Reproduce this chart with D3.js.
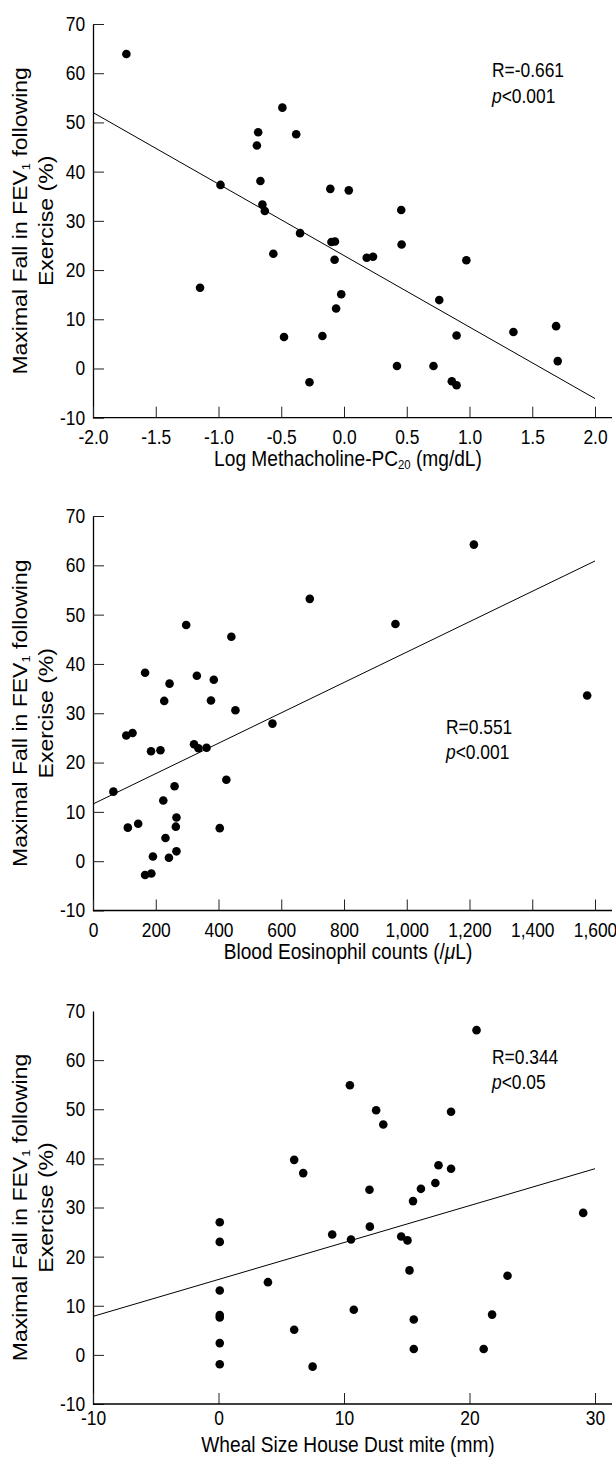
<!DOCTYPE html>
<html><head><meta charset="utf-8">
<script src="https://cdn.jsdelivr.net/npm/d3@7"></script>
<style>
body{margin:0;background:#fff}
svg{display:block}
text{font-family:"Liberation Sans",Arial,sans-serif;fill:#000}
</style>
</head><body>
<svg id="c" width="616" height="1458"></svg>
<script>
// ---------- data ----------
const yTickValues = [70, 60, 50, 40, 30, 20, 10, 0, -10];

const methX = [-1.734,-0.984,-0.684,-0.694,-0.491,-0.381,-0.666,-0.109,0.038,-0.650,-0.631,-0.350,-0.563,-0.100,-0.072,-0.075,0.181,0.231,0.456,0.459,0.975,-1.147,-0.022,-0.063,0.759,-0.478,-0.172,0.897,1.350,1.690,1.703,0.422,0.713,-0.275,0.859,0.897];
const methY = [63.9,37.3,48.0,45.3,53.0,47.6,38.1,36.5,36.2,33.3,32.0,27.5,23.3,25.7,25.8,22.1,22.5,22.7,32.2,25.2,22.0,16.4,15.1,12.2,13.9,6.4,6.6,6.7,7.4,8.6,1.5,0.5,0.5,-2.8,-2.6,-3.4];
const methTicks = [-2.0,-1.5,-1.0,-0.5,0.0,0.5,1.0,1.5,2.0];
const methFit = {intercept: 22.95, slope: -14.53};
const methStats = ["R=-0.661", "<0.001"];

const eosX = [1214,691,964,297,441,166,244,331,385,1575,227,376,454,572,106,126,185,215,322,336,362,65,260,425,224,266,264,111,144,404,231,266,191,242,166,186];
const eosY = [64.2,53.2,48.1,47.9,45.5,38.2,36.0,37.6,36.8,33.6,32.5,32.6,30.6,27.9,25.5,26.0,22.3,22.5,23.7,22.9,23.0,14.1,15.2,16.5,12.3,8.85,7.0,6.8,7.6,6.7,4.7,2.0,0.95,0.7,-2.8,-2.5];
const eosTicks = [0,200,400,600,800,1000,1200,1400,1600];
const eosFit = {intercept: 11.6, slope: 0.0308};
const eosStats = ["R=0.551", "<0.001"];

const whealX = [20.56,10.47,12.56,13.13,18.53,6.03,6.75,17.53,18.53,17.28,12.03,16.13,15.5,29.06,0.1,0.1,9.06,10.56,12.06,14.56,15.06,15.22,23.03,3.94,0.1,10.78,0.1,0.1,15.56,21.8,6.03,0.1,0.1,7.5,15.56,21.13];
const whealY = [66.1,54.9,49.8,46.9,49.5,39.7,37.0,38.6,37.9,35.0,33.6,33.8,31.3,28.9,27.0,23.0,24.5,23.5,26.1,24.1,23.3,17.2,16.1,14.8,13.1,9.2,8.1,7.6,7.2,8.2,5.1,2.4,-1.9,-2.4,1.2,1.2];
const whealTicks = [-10,0,10,20,30];
const whealFit = {intercept: 15.35, slope: 0.7515};
const whealStats = ["R=0.344", "<0.05"];
const whealYTickMarks = [60,50,40,38.8,30,20,10,0,-10];

// ---------- drawing ----------
const SX = 0.87;
const FONT = '"Liberation Sans",Arial,sans-serif';
const svg = d3.select("#c");
const X0 = 93, X1 = 595, XEND = 612;

function ctext(g, x, y, size, anchor) {
  return g.append("text")
    .attr("transform", `translate(${x},${y}) scale(${SX},1)`)
    .attr("text-anchor", anchor).attr("font-size", size);
}

function panel(cfg) {
  const g = svg.append("g");
  const x = d3.scaleLinear().domain(cfg.xDomain).range([X0, X1]);
  const y = d3.scaleLinear().domain([-10, 70]).range([cfg.bottom, cfg.top]);

  // y axis
  const ya = g.append("g").attr("transform", `translate(${X0},0)`)
    .call(d3.axisLeft(y).tickValues(yTickValues).tickFormat(d => String(d))
      .tickSizeInner(-11).tickSizeOuter(0).tickPadding(9));
  ya.attr("font-family", FONT).attr("font-size", 20);
  ya.select(".domain").attr("stroke", "#000").attr("stroke-width", 1.3);
  ya.selectAll(".tick line").attr("stroke", "#222").attr("stroke-width", 1);
  ya.selectAll(".tick text").attr("transform", `scale(${SX},1)`).attr("fill", "#000");
  if (cfg.yTickMarks) {
    ya.selectAll(".tick line").remove();
    g.append("g").attr("transform", `translate(${X0},0)`)
      .call(d3.axisLeft(y).tickValues(cfg.yTickMarks).tickFormat("").tickSizeInner(-11).tickSizeOuter(0))
      .call(a => a.select(".domain").remove())
      .selectAll(".tick line").attr("stroke", "#222").attr("stroke-width", 1);
  }

  // x axis
  const xa = g.append("g").attr("transform", `translate(0,${cfg.bottom})`)
    .call(d3.axisBottom(x).tickValues(cfg.xTicks).tickFormat(cfg.fmt)
      .tickSizeInner(-11).tickSizeOuter(0).tickPadding(cfg.xPad));
  xa.attr("font-family", FONT).attr("font-size", 20);
  xa.select(".domain").remove();
  xa.selectAll(".tick line").attr("stroke", "#222").attr("stroke-width", 1);
  xa.selectAll(".tick text").attr("transform", `scale(${SX},1)`).attr("fill", "#000");
  g.append("line").attr("x1", X0).attr("x2", XEND)
    .attr("y1", cfg.bottom).attr("y2", cfg.bottom)
    .attr("stroke", "#000").attr("stroke-width", 1.3);

  // regression line
  const [d0, d1] = cfg.xDomain;
  g.append("line")
    .attr("x1", x(d0)).attr("y1", y(cfg.fit.intercept + cfg.fit.slope * d0))
    .attr("x2", x(d1)).attr("y2", y(cfg.fit.intercept + cfg.fit.slope * d1))
    .attr("stroke", "#000").attr("stroke-width", 1);

  // points
  g.append("g").selectAll("circle").data(cfg.xs.map((v, i) => [v, cfg.ys[i]]))
    .join("circle").attr("cx", d => x(d[0])).attr("cy", d => y(d[1]))
    .attr("r", 4.3).attr("fill", "#000");

  // stats
  ctext(g, cfg.statX, cfg.statY, 20, "start").text(cfg.stats[0]);
  const p = ctext(g, cfg.statX, cfg.statY + 25.5, 20, "start");
  p.append("tspan").attr("font-style", "italic").text("p");
  p.append("tspan").text(cfg.stats[1]);

  // y title
  const cy = (cfg.top + cfg.bottom) / 2;
  const l1 = g.append("text")
    .attr("transform", `translate(27,${cy}) scale(${SX},1) rotate(-90)`)
    .attr("text-anchor", "middle").attr("font-size", 23);
  l1.append("tspan").text("Maximal Fall in FEV");
  l1.append("tspan").attr("font-size", 13).attr("dy", 3).text("1");
  l1.append("tspan").attr("dy", -3).text(" following");
  g.append("text")
    .attr("transform", `translate(53,${cy}) scale(${SX},1) rotate(-90)`)
    .attr("text-anchor", "middle").attr("font-size", 23).text("Exercise (%)");

  // x title
  const t = ctext(g, 348, cfg.bottom + 48, 22, "middle");
  cfg.xTitle(t);
}

panel({
  xDomain: [-2, 2], xTicks: methTicks, fmt: d => d.toFixed(1), xPad: 12,
  top: 24, bottom: 417.7, xs: methX, ys: methY, fit: methFit, stats: methStats,
  statX: 492, statY: 77,
  xTitle: t => {
    t.append("tspan").text("Log Methacholine-PC");
    t.append("tspan").attr("font-size", 13).attr("dy", 3).text("20");
    t.append("tspan").attr("dy", -3).text(" (mg/dL)");
  }
});
panel({
  xDomain: [0, 1600], xTicks: eosTicks, fmt: d3.format(","), xPad: 12,
  top: 516, bottom: 910.5, xs: eosX, ys: eosY, fit: eosFit, stats: eosStats,
  statX: 446, statY: 733.5,
  xTitle: t => {
    t.append("tspan").text("Blood Eosinophil counts (/");
    t.append("tspan").attr("font-style", "italic").text("\u03bc");
    t.append("tspan").text("L)");
  }
});
panel({
  xDomain: [-10, 30], xTicks: whealTicks, fmt: d => String(d), xPad: 7,
  top: 1011, bottom: 1404, xs: whealX, ys: whealY, fit: whealFit, stats: whealStats,
  statX: 492, statY: 1063.5, yTickMarks: whealYTickMarks,
  xTitle: t => t.text("Wheal Size House Dust mite (mm)")
});
</script>
</body></html>
